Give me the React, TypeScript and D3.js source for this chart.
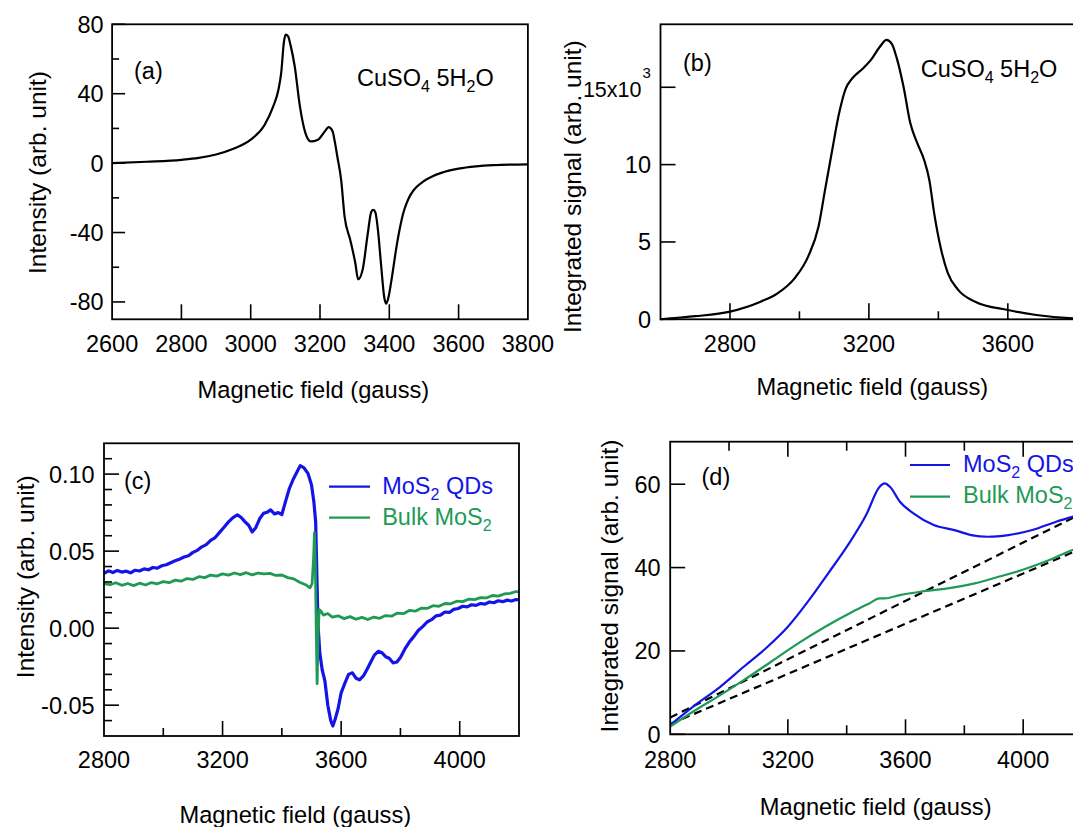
import React from 'react';
import * as d3 from 'd3';

const FONT = '"Liberation Sans", Arial, Helvetica, sans-serif';
const BLUE = '#1414e6';
const GREEN = '#1f9a55';

// ---------- Panel (a): CuSO4 5H2O derivative spectrum ----------
const fieldA = [2600, 2700, 2800, 2850, 2900, 2950, 3000, 3040, 3065, 3080, 3088, 3096, 3101, 3108, 3115, 3127, 3142, 3158, 3173, 3194, 3214, 3225, 3236, 3243, 3250, 3261, 3271, 3287, 3302, 3310, 3323, 3338, 3348, 3354, 3360, 3368, 3376, 3386, 3391, 3398, 3405, 3421, 3430, 3440, 3450, 3462, 3480, 3500, 3525, 3550, 3600, 3650, 3700, 3800];
const intensityA = [0, 0.8, 1.9, 3, 5, 8.3, 13.5, 22, 32.7, 42.3, 52, 70, 74, 73, 68, 55.8, 32.7, 17.3, 12.5, 13.5, 18.3, 20.8, 18.5, 12, 3.8, -9.6, -30.8, -44, -57.7, -67, -61.5, -40.4, -28, -26.9, -28.5, -40, -58, -78, -81, -77, -69, -48, -38, -29, -23, -18, -13.5, -10.3, -7.5, -5.6, -3.2, -1.9, -1.2, -0.7];

// ---------- Panel (b): integrated signal (x10^3) ----------
const fieldB = [2600, 2628, 2700, 2800, 2888, 2937, 2986, 3025, 3055, 3074, 3094, 3114, 3133, 3153, 3182, 3207, 3231, 3251, 3266, 3280, 3300, 3319, 3339, 3359, 3374, 3388, 3408, 3427, 3457, 3506, 3600, 3682, 3788, 3850];
const integratedB = [0, 0.06, 0.2, 0.5, 1.14, 1.68, 2.65, 4.05, 6.0, 8.4, 10.9, 13.3, 14.9, 15.6, 16.2, 16.8, 17.6, 18.06, 17.8, 16.9, 15.0, 12.7, 11.4, 10.3, 9.0, 6.85, 4.5, 3.0, 1.9, 1.14, 0.6, 0.28, 0.06, 0.03];

// ---------- Panel (c): MoS2 EPR spectra ----------
const fieldC_QD = [2800, 2815, 2830, 2845, 2860, 2875, 2890, 2905, 2920, 2935, 2950, 2965, 2980, 2995, 3010, 3025, 3040, 3055, 3070, 3085, 3100, 3115, 3130, 3145, 3160, 3175, 3190, 3205, 3220, 3235, 3250, 3262, 3275, 3288, 3300, 3312, 3325, 3338, 3350, 3362, 3375, 3388, 3400, 3412, 3425, 3438, 3450, 3462, 3475, 3488, 3500, 3508, 3514, 3518, 3522, 3528, 3536, 3545, 3555, 3565, 3572, 3580, 3590, 3600, 3612, 3625, 3638, 3650, 3662, 3675, 3688, 3700, 3712, 3725, 3738, 3750, 3762, 3775, 3788, 3800, 3815, 3830, 3845, 3860, 3875, 3890, 3905, 3920, 3935, 3950, 3965, 3980, 3995, 4010, 4025, 4040, 4055, 4070, 4085, 4100, 4115, 4130, 4145, 4160, 4175, 4190, 4200];
const intensityC_QD = [0.0355, 0.0372, 0.0361, 0.0375, 0.0364, 0.0370, 0.0359, 0.0376, 0.0371, 0.0385, 0.0379, 0.0394, 0.0390, 0.0405, 0.0412, 0.0425, 0.0437, 0.0448, 0.0462, 0.0470, 0.0492, 0.0505, 0.0528, 0.0542, 0.0570, 0.0588, 0.0622, 0.0655, 0.0690, 0.0718, 0.0735, 0.0720, 0.0692, 0.0668, 0.0625, 0.0652, 0.0710, 0.0745, 0.0752, 0.0768, 0.0742, 0.0750, 0.0738, 0.0820, 0.0905, 0.0965, 0.1010, 0.1055, 0.1040, 0.1005, 0.0930, 0.0820, 0.0690, 0.0350, 0.0020, -0.0160, -0.0270, -0.0340, -0.0500, -0.0600, -0.0635, -0.0590, -0.0520, -0.0420, -0.0360, -0.0300, -0.0290, -0.0325, -0.0335, -0.0310, -0.0265, -0.0220, -0.0175, -0.0150, -0.0160, -0.0185, -0.0195, -0.0225, -0.0220, -0.0190, -0.0135, -0.0090, -0.0055, -0.0015, 0.0010, 0.0040, 0.0055, 0.0080, 0.0085, 0.0105, 0.0102, 0.0122, 0.0128, 0.0142, 0.0138, 0.0152, 0.0148, 0.0160, 0.0156, 0.0170, 0.0165, 0.0178, 0.0172, 0.0182, 0.0176, 0.0186, 0.0184];

const fieldC_Bulk = [2800, 2820, 2840, 2860, 2880, 2900, 2920, 2940, 2960, 2980, 3000, 3020, 3040, 3060, 3080, 3100, 3120, 3140, 3160, 3180, 3200, 3220, 3240, 3260, 3280, 3300, 3320, 3340, 3360, 3380, 3400, 3420, 3440, 3460, 3480, 3495, 3502, 3507, 3510, 3513, 3516, 3519, 3522, 3526, 3532, 3540, 3555, 3570, 3590, 3610, 3630, 3650, 3670, 3690, 3710, 3730, 3750, 3770, 3790, 3810, 3830, 3850, 3870, 3890, 3910, 3930, 3950, 3970, 3990, 4010, 4030, 4050, 4070, 4090, 4110, 4130, 4150, 4170, 4190, 4200];
const intensityC_Bulk = [0.0290, 0.0282, 0.0295, 0.0278, 0.0290, 0.0276, 0.0292, 0.0280, 0.0296, 0.0288, 0.0302, 0.0295, 0.0312, 0.0305, 0.0322, 0.0316, 0.0334, 0.0328, 0.0345, 0.0338, 0.0352, 0.0344, 0.0358, 0.0348, 0.0360, 0.0346, 0.0358, 0.0352, 0.0356, 0.0342, 0.0345, 0.0328, 0.0320, 0.0298, 0.0282, 0.0262, 0.0290, 0.0450, 0.0620, 0.0420, 0.0000, -0.0360, -0.0050, 0.0120, 0.0110, 0.0085, 0.0095, 0.0072, 0.0080, 0.0062, 0.0075, 0.0058, 0.0070, 0.0056, 0.0072, 0.0064, 0.0082, 0.0078, 0.0098, 0.0094, 0.0115, 0.0110, 0.0130, 0.0128, 0.0146, 0.0142, 0.0160, 0.0158, 0.0175, 0.0172, 0.0188, 0.0185, 0.0198, 0.0196, 0.0212, 0.0208, 0.0222, 0.0226, 0.0238, 0.0234];

// ---------- Panel (d): integrated signals ----------
const fieldD_QD = [2800, 2877, 2970, 3050, 3131, 3200, 3270, 3339, 3408, 3466, 3512, 3529, 3547, 3581, 3627, 3696, 3766, 3823, 3881, 3950, 4031, 4112, 4167, 4200];
const integratedD_QD = [2.24, 6.6, 11.4, 16.2, 21.0, 25.8, 32.0, 38.8, 45.8, 52.6, 59.4, 60.2, 59.4, 55.8, 53.0, 50.2, 49.0, 47.8, 47.4, 47.8, 49.0, 51.0, 52.2, 53.0];
const fieldD_Bulk = [2800, 2877, 2970, 3050, 3143, 3235, 3327, 3420, 3477, 3512, 3529, 3581, 3650, 3743, 3835, 3916, 3996, 4089, 4167, 4200];
const integratedD_Bulk = [1.84, 5.4, 9.4, 13.0, 17.4, 21.8, 25.8, 29.4, 31.4, 32.6, 32.6, 33.4, 34.2, 35.0, 36.2, 37.8, 39.4, 41.8, 44.2, 45.0];
const baselineField = [2800, 4200];
const baselineQD = [4.0, 53.0];
const baselineBulk = [2.45, 44.6];

// ---------- Tick values ----------
const ticksAx = [2600, 2800, 3000, 3200, 3400, 3600, 3800];
const ticksAyMajor = [-80, -40, 0, 40, 80];
const ticksAyMinor = [-60, -20, 20, 60];
const ticksBxMajor = [2800, 3200, 3600];
const ticksBxMinor = [3000, 3400];
const ticksBy = [0, 5, 10, 15];
const ticksCDxMajor = [2800, 3200, 3600, 4000];
const ticksCDxMinor = [3000, 3400, 3800];
const ticksCyMajor = [-0.05, 0, 0.05, 0.1];
const ticksCyMinor = [-0.06, -0.04, -0.03, -0.02, -0.01, 0.01, 0.02, 0.03, 0.04, 0.06, 0.07, 0.08, 0.09, 0.11];
const ticksDy = [0, 20, 40, 60];

const FS = 23.5;

type Part = [string, boolean];
function rich(parts: Part[], subSize = 16, shift = 6) {
  let cur = 0;
  return parts.map(([t, sub], i) => {
    const target = sub ? shift : 0;
    const el = (
      <tspan key={i} dy={target - cur} fontSize={sub ? subSize : undefined}>
        {t}
      </tspan>
    );
    cur = target;
    return el;
  });
}

const cuso4: Part[] = [['CuSO', false], ['4', true], [' 5H', false], ['2', true], ['O', false]];
const mosQD: Part[] = [['MoS', false], ['2', true], [' QDs', false]];
const mosBulk: Part[] = [['Bulk MoS', false], ['2', true]];

function lineFrom(xs: number[], ys: number[], x: any, y: any, curve: any) {
  const pts = xs.map((v, i) => [v, ys[i]] as [number, number]);
  return d3
    .line<[number, number]>()
    .x((d) => x(d[0]))
    .y((d) => y(d[1]))
    .curve(curve)(pts) as string;
}

export default function App() {
  const xA = d3.scaleLinear().domain([2600, 3800]).range([112.1, 527.9]);
  const yA = d3.scaleLinear().domain([-90, 80]).range([319.3, 24.3]);
  const xB = d3.scaleLinear().domain([2600, 3800]).range([660.5, 1077.3]);
  const yB = d3.scaleLinear().domain([0, 19.07]).range([319.3, 24.3]);
  const xC = d3.scaleLinear().domain([2800, 4200]).range([104, 519]);
  const yC = d3.scaleLinear().domain([-0.07, 0.12]).range([736, 443.3]);
  const xD = d3.scaleLinear().domain([2800, 4200]).range([670.2, 1082]);
  const yD = d3.scaleLinear().domain([0, 70.2]).range([734.3, 441.7]);

  const frame = (x: any, y: any) => {
    const [x0, x1] = x.range();
    const [y0, y1] = y.range();
    return <rect x={x0} y={y1} width={x1 - x0} height={y0 - y1} fill="none" stroke="#000" strokeWidth={1.8} />;
  };

  const xTicks = (x: any, y: any, vals: number[], len: number, top = false) =>
    vals.map((v) => {
      const yb = y.range()[0];
      const yt = y.range()[1];
      return (
        <g key={`xt${v}${len}${top}`}>
          <line x1={x(v)} x2={x(v)} y1={yb} y2={yb - len} stroke="#000" strokeWidth={1.6} />
          {top && <line x1={x(v)} x2={x(v)} y1={yt} y2={yt + len} stroke="#000" strokeWidth={1.6} />}
        </g>
      );
    });

  const yTicks = (x: any, y: any, vals: number[], len: number) =>
    vals.map((v) => {
      const xl = x.range()[0];
      return <line key={`yt${v}${len}`} x1={xl} x2={xl + len} y1={y(v)} y2={y(v)} stroke="#000" strokeWidth={1.6} />;
    });

  const xLabels = (x: any, vals: number[], base: number) =>
    vals.map((v) => (
      <text key={`xl${v}`} x={x(v)} y={base} textAnchor="middle" fontSize={FS}>
        {v}
      </text>
    ));

  const yLabels = (x: any, y: any, vals: number[], fmt: (v: number) => string, gap = 9) =>
    vals.map((v) => (
      <text key={`yl${v}`} x={x.range()[0] - gap} y={y(v)} dy="0.36em" textAnchor="end" fontSize={FS}>
        {fmt(v)}
      </text>
    ));

  const yTitle = (cx: number, cy: number, label: string) => (
    <text transform={`translate(${cx},${cy}) rotate(-90)`} textAnchor="middle" dominantBaseline="central" fontSize={24.5}>
      {label}
    </text>
  );

  return (
    <svg width={1073} height={827} style={{ position: 'absolute', left: 0, top: 0, background: '#fff' }} fontFamily={FONT} fill="#000">
      <defs>
        <clipPath id="clipC">
          <rect x={104} y={443.3} width={415} height={292.7} />
        </clipPath>
        <clipPath id="clipD">
          <rect x={670.2} y={441.7} width={412} height={292.6} />
        </clipPath>
      </defs>

      {/* ----- Panel (a) ----- */}
      <path d={lineFrom(fieldA, intensityA, xA, yA, d3.curveMonotoneX)} fill="none" stroke="#000" strokeWidth={2.2} />
      {frame(xA, yA)}
      {xTicks(xA, yA, ticksAx.slice(1, -1), 15)}
      {yTicks(xA, yA, ticksAyMajor, 13)}
      {yTicks(xA, yA, ticksAyMinor, 7)}
      {xLabels(xA, ticksAx, 352)}
      {yLabels(xA, yA, ticksAyMajor, (v) => String(v), 8.5)}
      <text x={134} y={79} fontSize={FS}>(a)</text>
      <text x={357} y={86} fontSize={FS}>{rich(cuso4)}</text>
      {yTitle(37.5, 172.5, 'Intensity (arb. unit)')}
      <text x={313.4} y={398} textAnchor="middle" fontSize={23.7}>Magnetic field (gauss)</text>

      {/* ----- Panel (b) ----- */}
      <path d={lineFrom(fieldB, integratedB, xB, yB, d3.curveMonotoneX)} fill="none" stroke="#000" strokeWidth={2.2} />
      {frame(xB, yB)}
      {xTicks(xB, yB, ticksBxMajor, 16)}
      {xTicks(xB, yB, ticksBxMinor, 8)}
      {yTicks(xB, yB, ticksBy, 15)}
      {xLabels(xB, ticksBxMajor, 352)}
      {yLabels(xB, yB, ticksBy.slice(0, 3), (v) => String(v), 9.5)}
      <text x={xB.range()[0] - 19} y={yB(15)} dy="0.45em" textAnchor="end" fontSize={21.5}>15x10</text>
      <text x={xB.range()[0] - 18} y={yB(15) - 9} textAnchor="start" fontSize={15}>3</text>
      <text x={683} y={71} fontSize={FS}>(b)</text>
      <text x={920.7} y={77} fontSize={FS}>{rich(cuso4)}</text>
      {yTitle(572.3, 186.7, 'Integrated signal (arb. unit)')}
      <text x={872.3} y={395} textAnchor="middle" fontSize={23.7}>Magnetic field (gauss)</text>

      {/* ----- Panel (c) ----- */}
      <g clipPath="url(#clipC)">
        <path d={lineFrom(fieldC_QD, intensityC_QD, xC, yC, d3.curveLinear)} fill="none" stroke={BLUE} strokeWidth={3.2} strokeLinejoin="round" />
        <path d={lineFrom(fieldC_Bulk, intensityC_Bulk, xC, yC, d3.curveLinear)} fill="none" stroke={GREEN} strokeWidth={2.8} strokeLinejoin="round" />
      </g>
      {frame(xC, yC)}
      {xTicks(xC, yC, ticksCDxMajor.slice(1), 15)}
      {xTicks(xC, yC, ticksCDxMinor, 8)}
      {yTicks(xC, yC, ticksCyMajor, 15)}
      {yTicks(xC, yC, ticksCyMinor, 8)}
      {xLabels(xC, ticksCDxMajor, 768)}
      {yLabels(xC, yC, ticksCyMajor, (v) => v.toFixed(2), 9.3)}
      <text x={124} y={489} fontSize={FS}>(c)</text>
      <line x1={329} x2={370} y1={486.7} y2={486.7} stroke={BLUE} strokeWidth={2.2} />
      <text x={382.2} y={494} fontSize={FS} fill={BLUE}>{rich(mosQD)}</text>
      <line x1={329} x2={370} y1={517.7} y2={517.7} stroke={GREEN} strokeWidth={2.2} />
      <text x={382.2} y={525} fontSize={FS} fill={GREEN}>{rich(mosBulk)}</text>
      {yTitle(25.8, 576.7, 'Intensity (arb. unit)')}
      <text x={295.3} y={823} textAnchor="middle" fontSize={23.7}>Magnetic field (gauss)</text>

      {/* ----- Panel (d) ----- */}
      <g clipPath="url(#clipD)">
        <path d={lineFrom(baselineField, baselineQD, xD, yD, d3.curveLinear)} fill="none" stroke="#000" strokeWidth={2.2} strokeDasharray="8,5" />
        <path d={lineFrom(baselineField, baselineBulk, xD, yD, d3.curveLinear)} fill="none" stroke="#000" strokeWidth={2.2} strokeDasharray="8,5" />
        <path d={lineFrom(fieldD_QD, integratedD_QD, xD, yD, d3.curveMonotoneX)} fill="none" stroke={BLUE} strokeWidth={2.2} />
        <path d={lineFrom(fieldD_Bulk, integratedD_Bulk, xD, yD, d3.curveMonotoneX)} fill="none" stroke={GREEN} strokeWidth={2.2} />
      </g>
      {frame(xD, yD)}
      {xTicks(xD, yD, ticksCDxMajor.slice(1), 15, true)}
      {xTicks(xD, yD, ticksCDxMinor, 9, true)}
      {yTicks(xD, yD, ticksDy, 15)}
      {xLabels(xD, ticksCDxMajor, 768)}
      {yLabels(xD, yD, ticksDy, (v) => String(v), 9.5)}
      <text x={701.5} y={485} fontSize={FS}>(d)</text>
      <line x1={910} x2={950} y1={465} y2={465} stroke={BLUE} strokeWidth={2.2} />
      <text x={963} y={472} fontSize={FS} fill={BLUE}>{rich(mosQD)}</text>
      <line x1={910} x2={950} y1={496.7} y2={496.7} stroke={GREEN} strokeWidth={2.2} />
      <text x={963} y={503} fontSize={FS} fill={GREEN}>{rich(mosBulk)}</text>
      {yTitle(609, 586, 'Integrated signal (arb. unit)')}
      <text x={875.7} y={815} textAnchor="middle" fontSize={23.7}>Magnetic field (gauss)</text>
    </svg>
  );
}
